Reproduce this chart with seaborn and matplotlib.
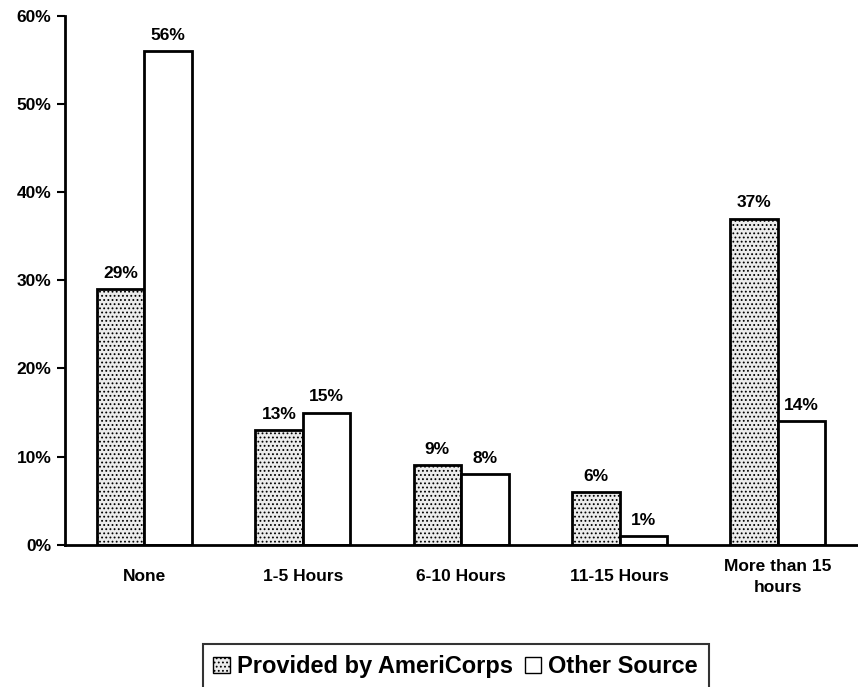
import pandas as pd
import numpy as np
import matplotlib
matplotlib.use('Agg')
import matplotlib.pyplot as plt
import seaborn as sns
from matplotlib.patches import Patch

categories = ['None', '1-5 Hours', '6-10 Hours', '11-15 Hours', 'More than 15\nhours']
americorps = [29, 13, 9, 6, 37]
other_source = [56, 15, 8, 1, 14]
series_names = ['Provided by AmeriCorps', 'Other Source']

df = pd.DataFrame({
    'cat': categories * 2,
    'val': americorps + other_source,
    'src': [series_names[0]] * 5 + [series_names[1]] * 5,
})

sns.set_style('white')
plt.rcParams['font.family'] = ['Liberation Sans', 'DejaVu Sans']
plt.rcParams['font.weight'] = 'bold'
plt.rcParams['text.color'] = 'black'
plt.rcParams['xtick.color'] = 'black'
plt.rcParams['ytick.color'] = 'black'
plt.rcParams['hatch.color'] = '#b0b0b0'
plt.rcParams['hatch.linewidth'] = 0.8

fig = plt.figure(figsize=(8.58, 6.87), dpi=100)
ax = fig.add_axes([0.076, 0.207, 0.923, 0.77])

sns.barplot(data=df, x='cat', y='val', hue='src', order=categories,
            hue_order=series_names, palette=['#ececec', 'white'],
            width=0.6, gap=0, edgecolor='black', linewidth=2,
            legend=False, ax=ax)

# stipple the AmeriCorps bars
for cont, h in zip(ax.containers, ['....', None]):
    for bar in cont:
        if h:
            bar.set_hatch(h)
    ax.bar_label(cont, fmt='%d%%', padding=6, fontsize=12.5, fontweight='bold', color='black')

ax.set_ylim(0, 60)
ax.set_xlim(-0.5, 4.5)
ax.set_yticks(np.arange(0, 61, 10))
ax.set_yticklabels([f'{v}%' for v in range(0, 61, 10)], fontsize=12.5, fontweight='bold')
ax.set_xticks(range(5))
ax.set_xticklabels(categories, fontsize=12.5, fontweight='bold', va='center', linespacing=1.5)
ax.tick_params(axis='x', which='major', length=0, pad=23)
ax.set_xticks(np.arange(-0.5, 5, 1), minor=True)
ax.tick_params(axis='x', which='minor', length=6, width=1.5, direction='out', color='black')
ax.tick_params(axis='y', length=6, width=1.5, direction='out', color='black', pad=4, left=True)
ax.set_xlabel('')
ax.set_ylabel('')
sns.despine(ax=ax)
for s in ['left', 'bottom']:
    ax.spines[s].set_color('black')
    ax.spines[s].set_linewidth(2)

handles = [Patch(facecolor='#ececec', edgecolor='black', hatch='....', label=series_names[0]),
           Patch(facecolor='white', edgecolor='black', label=series_names[1])]
leg = fig.legend(handles=handles, loc='upper center', bbox_to_anchor=(0.531, 0.062),
                 ncol=2, frameon=True, fancybox=False, fontsize=17,
                 handlelength=0.7, handleheight=0.7, handletextpad=0.3,
                 columnspacing=0.5, borderpad=0.45, borderaxespad=0)
leg.get_frame().set_edgecolor('black')
leg.get_frame().set_linewidth(1.5)
for t in leg.get_texts():
    t.set_fontweight('bold')

fig.savefig('out.png', dpi=100)
